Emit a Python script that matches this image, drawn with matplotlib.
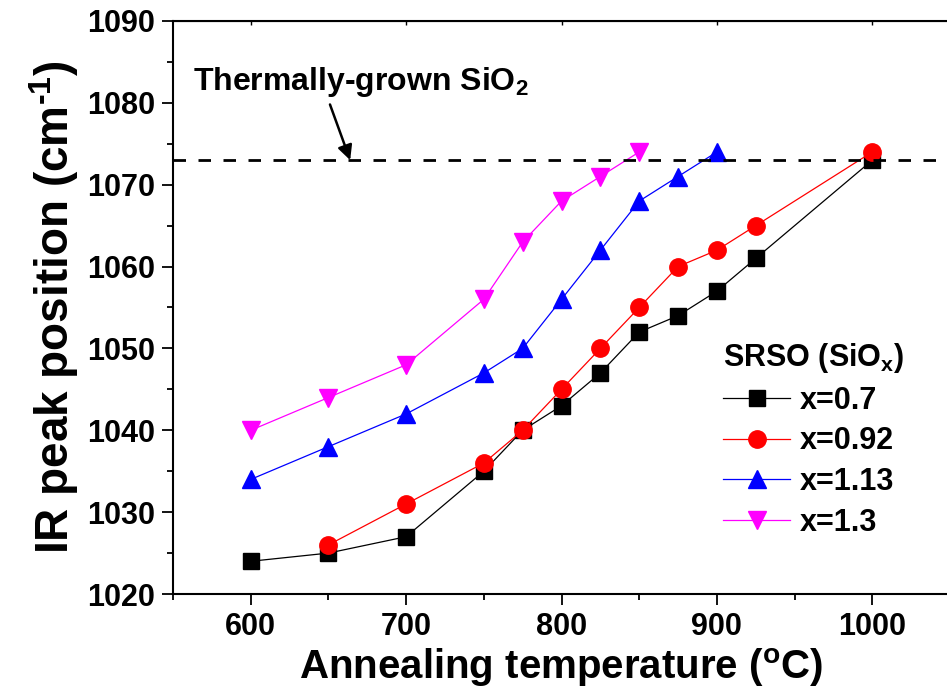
import matplotlib.pyplot as plt
from matplotlib.ticker import MultipleLocator

plt.rcParams['font.family'] = ['Liberation Sans', 'DejaVu Sans']
plt.rcParams['font.weight'] = 'bold'
plt.rcParams['mathtext.fontset'] = 'custom'
plt.rcParams['mathtext.rm'] = 'Liberation Sans:bold'
plt.rcParams['mathtext.it'] = 'Liberation Sans:bold'
plt.rcParams['mathtext.bf'] = 'Liberation Sans:bold'
plt.rcParams['mathtext.default'] = 'rm'

# annealing temperatures (C) and IR peak positions (cm-1) per composition
t_07 = [600, 650, 700, 750, 775, 800, 825, 850, 875, 900, 925, 1000]
p_07 = [1024, 1025, 1027, 1035, 1040, 1043, 1047, 1052, 1054, 1057, 1061, 1073]

t_092 = [650, 700, 750, 775, 800, 825, 850, 875, 900, 925, 1000]
p_092 = [1026, 1031, 1036, 1040, 1045, 1050, 1055, 1060, 1062, 1065, 1074]

t_113 = [600, 650, 700, 750, 775, 800, 825, 850, 875, 900]
p_113 = [1034, 1038, 1042, 1047, 1050, 1056, 1062, 1068, 1071, 1074]

t_13 = [600, 650, 700, 750, 775, 800, 825, 850]
p_13 = [1040, 1044, 1048, 1056, 1063, 1068, 1071, 1074]

thermal_sio2 = 1073

fig = plt.figure(figsize=(9.47, 6.90), dpi=100)
ax = fig.add_axes([0.1827, 0.1391, 0.8205, 0.8305])

ax.plot(t_07, p_07, '-s', color='black', lw=0.9, ms=11, label='x=0.7')
ax.plot(t_092, p_092, '-o', color='red', lw=0.9, ms=12.5, label='x=0.92')
ax.plot(t_113, p_113, '-^', color='blue', lw=0.9, ms=13, label='x=1.13')
ax.plot(t_13, p_13, '-v', color='magenta', lw=0.9, ms=13, label='x=1.3')

# reference level of thermally grown oxide
ax.axhline(thermal_sio2, color='black', lw=2, dashes=(4.5, 4.5))
ax.text(563, 1082.5, 'Thermally-grown SiO$_2$', fontsize=23,
        fontweight='bold', va='center', ha='left')
ax.annotate('', xy=(664, thermal_sio2), xytext=(651, 1079.8),
            arrowprops=dict(arrowstyle='-|>', color='black', lw=1.8,
                            mutation_scale=22, shrinkA=0, shrinkB=0))

ax.set_xlim(550, 1050)
ax.set_ylim(1020, 1090)
ax.xaxis.set_major_locator(MultipleLocator(100))
ax.xaxis.set_minor_locator(MultipleLocator(50))
ax.yaxis.set_major_locator(MultipleLocator(10))
ax.yaxis.set_minor_locator(MultipleLocator(5))

for s in ax.spines.values():
    s.set_linewidth(1.5)
ax.tick_params(which='major', direction='out', length=8, width=1.3,
               labelsize=22, pad=5)
ax.tick_params(which='minor', direction='out', length=4.5, width=1.3)
ax.secondary_xaxis('top').tick_params(which='both', direction='in', length=3,
                                      width=1, labeltop=False)

ax.set_xlabel('Annealing temperature ($^{\\mathrm{o}}$C)', fontsize=29,
              fontweight='bold', labelpad=3)
ax.set_ylabel('IR peak position (cm$^{\\text{-}1}$)', fontsize=33,
              fontweight='bold', labelpad=4)

leg = ax.legend(loc='upper left', bbox_to_anchor=(723 / 947, 1 - 341 / 690),
                bbox_transform=fig.transFigure, frameon=False,
                title='SRSO (SiO$_x$)', title_fontproperties={'size': 22, 'weight': 'bold'},
                fontsize=22, handlelength=2.2, handletextpad=0.3,
                labelspacing=0.35, borderpad=0, borderaxespad=0,
                alignment='left')

fig.savefig('out.png', dpi=100)
